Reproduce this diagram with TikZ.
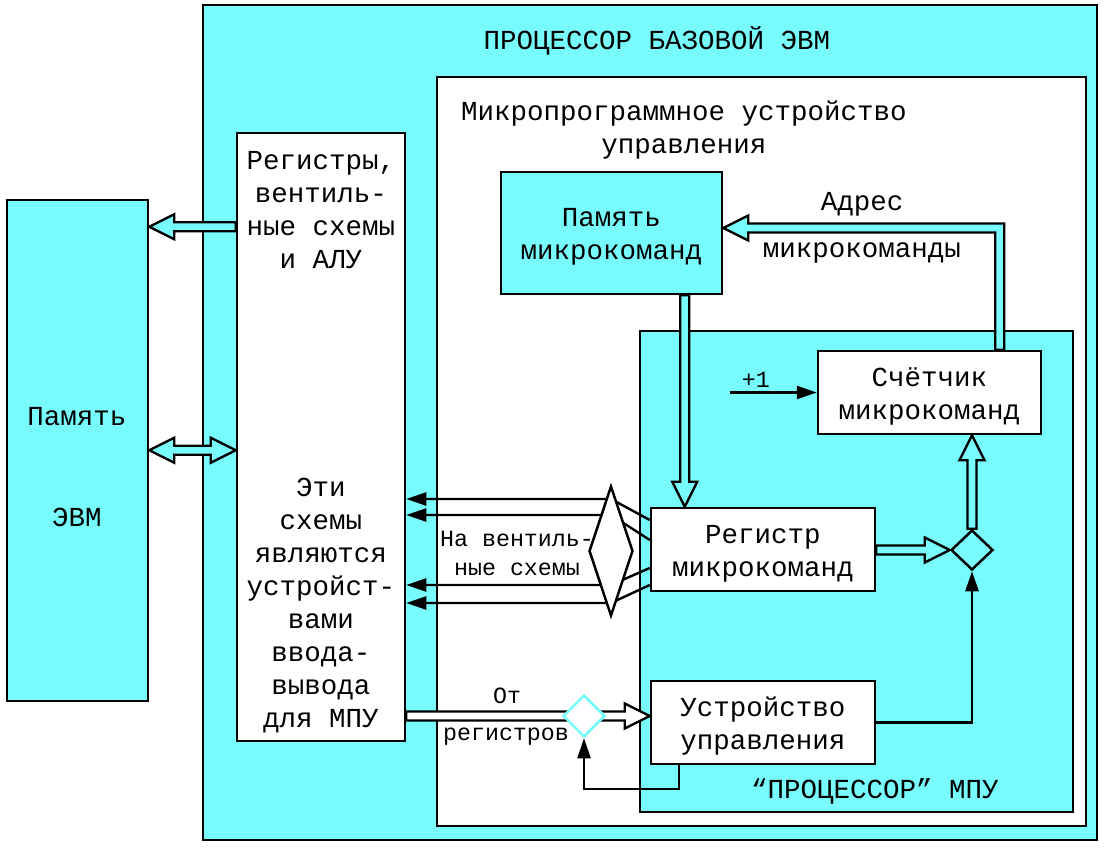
\documentclass[tikz,border=0pt]{standalone}
\usepackage{fontspec}
\setmainfont{Liberation Mono}
\usetikzlibrary{calc,arrows.meta,shapes.geometric}
\definecolor{cy}{RGB}{119,251,253}
\pgfdeclarelayer{front}
\pgfsetlayers{main,front}
\newcommand\fatarrow[3]{%
  \coordinate (fahd) at ($(#3)!25pt!(#2)$);
  \filldraw[fat, fill=#1] ($(#2)!4.5pt!90:(#3)$) -- ($(fahd)!4.5pt!-90:(#2)$) -- ($(fahd)!12.5pt!-90:(#2)$) -- (#3) -- ($(fahd)!12.5pt!90:(#2)$) -- ($(fahd)!4.5pt!90:(#2)$) -- ($(#2)!4.5pt!-90:(#3)$) -- cycle;}
\newcommand\fatdarrow[3]{%
  \coordinate (fahd) at ($(#3)!25pt!(#2)$);
  \coordinate (fatl) at ($(#2)!25pt!(#3)$);
  \filldraw[fat, fill=#1] (#2) -- ($(fatl)!12.5pt!90:(#3)$) -- ($(fatl)!4.5pt!90:(#3)$) -- ($(fahd)!4.5pt!-90:(#2)$) -- ($(fahd)!12.5pt!-90:(#2)$) -- (#3) -- ($(fahd)!12.5pt!90:(#2)$) -- ($(fahd)!4.5pt!90:(#2)$) -- ($(fatl)!4.5pt!-90:(#3)$) -- ($(fatl)!12.5pt!-90:(#3)$) -- cycle;}
\begin{document}
\begin{tikzpicture}[x=1pt,y=-1pt,
  box/.style={draw, line width=2.5pt, inner sep=0pt},
  big/.style={font=\fontsize{27.5}{33}\selectfont, align=center, inner sep=0pt},
  small/.style={font=\fontsize{23.3}{29}\selectfont, align=center, inner sep=0pt},
  tarr/.style={line width=2.4pt, -{Triangle[length=20pt,width=13pt]}},
  fat/.style={line width=2.4pt, line join=miter},
  dia/.style={diamond, draw, line width=2.5pt, inner sep=0pt}]
\useasboundingbox[fill=white] (0,0) rectangle (1104,848);
% boxes
\node[box, fill=cy, minimum width=894pt, minimum height=835pt] (proc) at (650,422.5) {};
\node[big] (proct) at (657,41) {ПРОЦЕССОР БАЗОВОЙ ЭВМ};
\node[box, fill=cy, minimum width=141pt, minimum height=501pt] (mem) at (77.5,450.5) {};
\node[big] (memt1) at (77,417) {Память};
\node[big] (memt2) at (77,517) {ЭВМ};
\node[box, fill=white, minimum width=168pt, minimum height=608pt] (regs) at (321,437) {};
\node[big] (regt1) at (321,210) {Регистры,\\вентиль-\\ные схемы\\и АЛУ};
\node[big] (regt2) at (321,606) {Эти\\схемы\\являются\\устройст-\\вами\\ввода-\\вывода\\для МПУ};
\node[box, fill=white, minimum width=649pt, minimum height=749pt] (mpu) at (761.5,451.5) {};
\node[big] (mput) at (684,130) {Микропрограммное устройство\\управления};
\node[box, fill=cy, minimum width=221pt, minimum height=122pt] (pmk) at (611.5,233) {};
\node[big] (pmkt) at ($(pmk)+(0,4)$) {Память\\микрокоманд};
\node[box, fill=cy, minimum width=433pt, minimum height=481pt] (cpu) at (856.5,571.5) {};
\node[big] (cput) at (875,791) {“ПРОЦЕССОР” МПУ};
\node[box, fill=white, minimum width=223pt, minimum height=83pt] (cnt) at (929.5,392.5) {};
\node[big] (cntt) at ($(cnt)+(0,4)$) {Счётчик\\микрокоманд};
\node[box, fill=white, minimum width=224pt, minimum height=83pt] (rmk) at (763,549.5) {};
\node[big] (rmkt) at ($(rmk)+(0,4)$) {Регистр\\микрокоманд};
\node[box, fill=white, minimum width=224pt, minimum height=83pt] (uu) at (763,722.5) {};
\node[big] (uut) at ($(uu)+(0,4)$) {Устройство\\управления};
% diamonds on front layer
\begin{pgfonlayer}{front}
\node[dia, fill=cy, minimum width=42pt, minimum height=40pt] (dmix) at (972,550) {};
\node[dia, fill=white, minimum width=44pt, minimum height=130pt] (dsplit) at (611,551) {};
\node[dia, draw=cy, fill=white, minimum width=42pt, minimum height=42pt] (dreg) at (584,716) {};
\end{pgfonlayer}
% fat arrows
\coordinate (a1s) at ($(regs.north west)+(0,95)$);
\coordinate (a1e) at (mem.east |- a1s);
\fatarrow{cy}{a1s}{a1e}
\coordinate (a2s) at ($(mem.north east)+(0,251.5)$);
\coordinate (a2e) at (regs.west |- a2s);
\fatdarrow{cy}{a2s}{a2e}
\coordinate (a3s) at ($(pmk.south east)+(-38.5,0)$);
\coordinate (a3e) at (a3s |- rmk.north);
\fatarrow{cy}{a3s}{a3e}
\coordinate (a4s) at (rmk.east |- dmix.west);
\fatarrow{cy}{a4s}{dmix.west}
\coordinate (a5e) at (dmix.north |- cnt.south);
\fatarrow{cy}{dmix.north}{a5e}
\coordinate (a6s) at (regs.east |- dreg.center);
\coordinate (a6e) at (uu.west |- dreg.center);
\fatarrow{white}{a6s}{a6e}
\coordinate (as) at ($(cnt.north east)+(-42.5,0)$);
\coordinate (ae) at ($(pmk.east)+(0,-5)$);
\coordinate (ac) at (as |- ae);
\filldraw[fat, fill=cy] ($(as)+(-4.5,0)$) -- ($(ac)+(-4.5,4.5)$) -- ($(ae)+(25,4.5)$) -- ($(ae)+(25,12.5)$) -- (ae) -- ($(ae)+(25,-12.5)$) -- ($(ae)+(25,-4.5)$) -- ($(ac)+(4.5,-4.5)$) -- ($(as)+(4.5,0)$) -- cycle;
% labels of fat arrows
\node[big] (adr1) at (862,204) {Адрес};
\node[big] (adr2) at (862,253) {микрокоманды};
\node[small] (ot1) at (507,696) {От};
\node[small] (ot2) at (506,737) {регистров};
\node[small] (nav) at (517,553) {На вентиль-\\ные схемы};
% thin arrows
\coordinate (p1) at ($(cnt.west)+(-87,0)$);
\draw[tarr] (p1) -- node[small, pos=0.3, anchor=base, yshift=5pt] (plus) {+1} (cnt.west);
\coordinate (s1) at ($(dsplit)+(0,-52)$);
\coordinate (s2) at ($(dsplit)+(0,-36)$);
\coordinate (s3) at ($(dsplit)+(0,34)$);
\coordinate (s4) at ($(dsplit)+(0,52)$);
\draw[tarr] ($(rmk.west)+(0,-29.5)$) -- (s1) -- (s1 -| regs.east);
\draw[tarr] ($(rmk.west)+(0,-9.5)$) -- (s2) -- (s2 -| regs.east);
\draw[tarr] ($(rmk.west)+(0,18.5)$) -- (s3) -- (s3 -| regs.east);
\draw[tarr] ($(rmk.west)+(0,35.5)$) -- (s4) -- (s4 -| regs.east);
\draw[tarr] (uu.east) -| (dmix.south);
\draw[tarr] ($(uu.south west)+(29,0)$) -- ++(0,24) -| (dreg.south);
\end{tikzpicture}
\end{document}
